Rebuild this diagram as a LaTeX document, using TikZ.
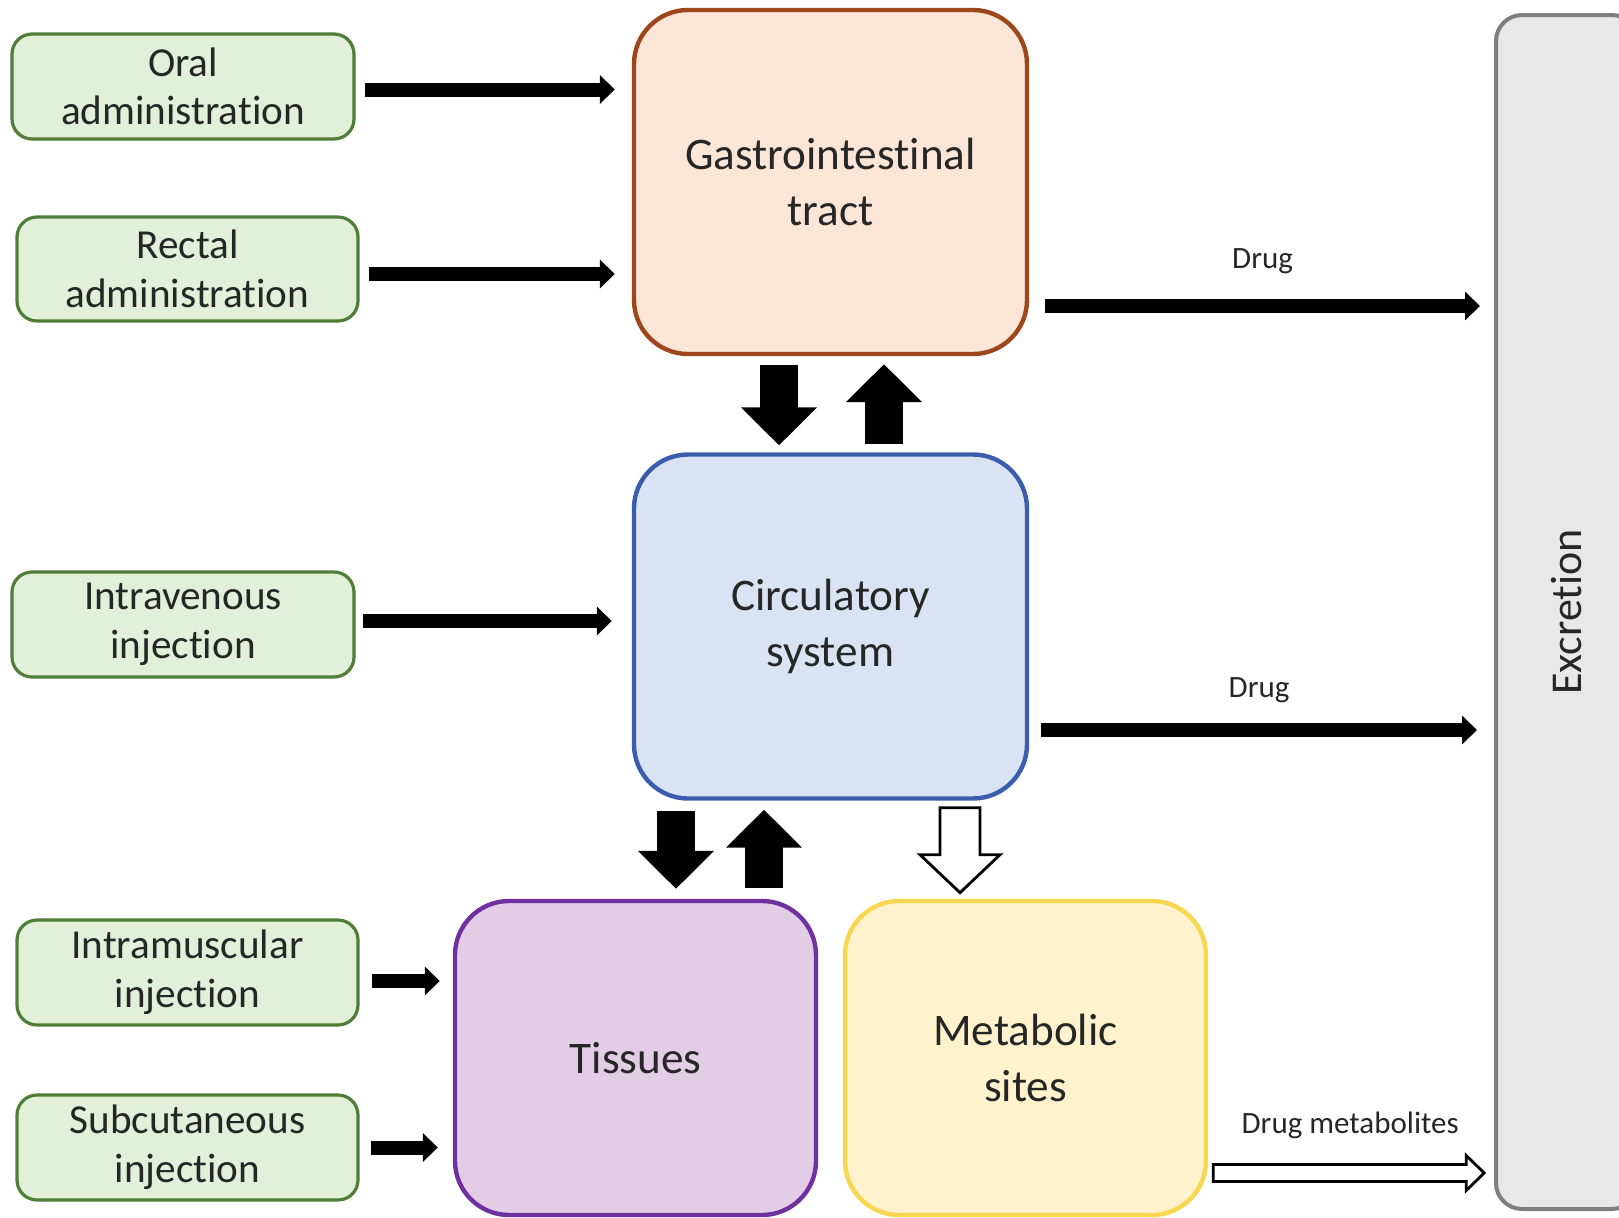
\documentclass[tikz,border=0pt]{standalone}
\usepackage{fontspec}
\setmainfont{Carlito}[Ligatures={NoCommon,NoContextual}]
\usetikzlibrary{arrows.meta,calc}
\definecolor{lgreen}{HTML}{E2F0D9}
\definecolor{sgreen}{HTML}{507D38}
\definecolor{gifill}{HTML}{FBE5D6}
\definecolor{gidraw}{HTML}{9E461C}
\definecolor{cifill}{HTML}{DAE3F3}
\definecolor{cidraw}{HTML}{3A5DAE}
\definecolor{tifill}{HTML}{E3CDE6}
\definecolor{tidraw}{HTML}{7030A0}
\definecolor{mefill}{HTML}{FFF2CC}
\definecolor{medraw}{HTML}{F9D64F}
\definecolor{exfill}{HTML}{E8E8E8}
\definecolor{exdraw}{HTML}{7F7F7F}
\definecolor{txt}{HTML}{262626}
\begin{document}
\begin{tikzpicture}[x=0.5pt,y=-0.5pt,
  sbox/.style={draw=sgreen, fill=lgreen, line width=1.6pt, rounded corners=10pt,
    align=center, font=\fontsize{20.6}{24.3}\selectfont, text=txt, inner sep=0pt},
  bbox/.style={line width=2.2pt, rounded corners=27pt, align=center,
    font=\fontsize{22.6}{28}\selectfont, text=txt, inner sep=0pt,
    minimum width=196.5pt, minimum height=172pt},
  lbox/.style={line width=2.2pt, rounded corners=27pt, align=center,
    font=\fontsize{22.6}{28}\selectfont, text=txt, inner sep=0pt,
    minimum width=180.5pt, minimum height=157pt},
  harrow/.style={line width=7pt, -{Triangle[width=14pt,length=7.5pt]}},
  barrow/.style={line width=19pt, -{Triangle[width=37pt,length=19pt]}},
  hollow/.style={draw=black, fill=white, line width=1.4pt, line join=miter},
  lbl/.style={font=\fontsize{15.5}{18}\selectfont, text=txt, inner sep=0pt}
]
\useasboundingbox (0,0) rectangle (1619,1217);
\clip (0,0) rectangle (1619,1217);

% small entry boxes
\node[sbox, minimum width=171pt, minimum height=52.5pt] (oral) at (183,86.5) {Oral\\administration};
\node[sbox, minimum width=170.5pt, minimum height=52pt] (rect) at (187.5,269) {Rectal\\administration};
\node[sbox, minimum width=171pt, minimum height=52.5pt] (iv) at (183,624.5) {Intravenous\\injection};
\node[sbox, minimum width=170.5pt, minimum height=52.5pt] (im) at (187.5,972.5) {Intramuscular\\injection};
\node[sbox, minimum width=170.5pt, minimum height=52.5pt] (sc) at (187.5,1147.5) {Subcutaneous\\injection};

% main boxes
\node[bbox, draw=gidraw, fill=gifill] (gi) at (830.5,182) {Gastrointestinal\\tract};
\node[bbox, draw=cidraw, fill=cifill] (circ) at (830.5,626.5) {Circulatory\\system};
\node[lbox, draw=tidraw, fill=tifill] (tis) at (635.5,1058) {Tissues};
\node[lbox, draw=medraw, fill=mefill] (met) at (1025.5,1058) {Metabolic\\sites};

% excretion
\node[draw=exdraw, fill=exfill, line width=2pt, rounded corners=13pt, rotate=90,
  minimum width=597pt, minimum height=71pt, inner sep=0pt,
  font=\fontsize{22}{26}\selectfont, text=txt] (exc) at (1567,612) {Excretion};

% horizontal arrows
\draw[harrow] ($(oral.east)+(9,3)$) -- ($(oral.east -| gi.west)+(-17,3)$);
\draw[harrow] ($(rect.east)+(9,5)$) -- ($(rect.east -| gi.west)+(-17,5)$);
\draw[harrow] ($(iv.east)+(7,-3.5)$) -- ($(iv.east -| circ.west)+(-20,-3.5)$);
\draw[harrow] ($(im.east)+(12,8.5)$) -- ($(im.east -| tis.west)+(-13,8.5)$);
\draw[harrow] ($(sc.east)+(11,0)$) -- ($(sc.east -| tis.west)+(-15,0)$);

\draw[harrow] ($(gi.east)+(16,124)$) -- ($(gi.east -| exc.north)+(-14,124)$)
  node[midway, yshift=22.5pt, lbl] {Drug};
\draw[harrow] ($(circ.east)+(12,103.5)$) -- ($(circ.east -| exc.north)+(-17,103.5)$)
  node[midway, yshift=20pt, lbl] {Drug};

% block arrows GI <-> circulatory
\draw[barrow] ($(gi.south)+(-51.5,9)$) -- ($(gi.south |- circ.north)+(-51.5,-7)$);
\draw[barrow] ($(gi.south |- circ.north)+(53.5,-8)$) -- ($(gi.south)+(53.5,8)$);

% block arrows circulatory <-> tissues
\draw[barrow] ($(circ.south -| tis.north)+(40.5,10)$) -- ($(tis.north)+(40.5,-10)$);
\draw[barrow] ($(tis.north)+(128.5,-11)$) -- ($(circ.south -| tis.north)+(128.5,9)$);

% hollow arrow circulatory -> metabolic
\coordinate (h1) at ($(circ.south)+(129.5,7)$);
\draw[hollow] (h1) ++(-20,0) -- ++(0,47) -- ++(-20,0) -- ++(40,38) -- ++(40,-38)
  -- ++(-20,0) -- ++(0,-47) -- cycle;

% hollow arrow metabolic -> excretion
\coordinate (m1) at ($(met.east)+(5,115)$);
\draw[hollow] (m1) ++(0,-8.5) -- ++(253,0) -- ++(0,-9) -- ++(18,17.5) -- ++(-18,17.5)
  -- ++(0,-9) -- ++(-253,0) -- cycle;
\node[lbl] (mlab) at ($(m1)+(137,-48)$) {Drug metabolites};
\end{tikzpicture}
\end{document}
